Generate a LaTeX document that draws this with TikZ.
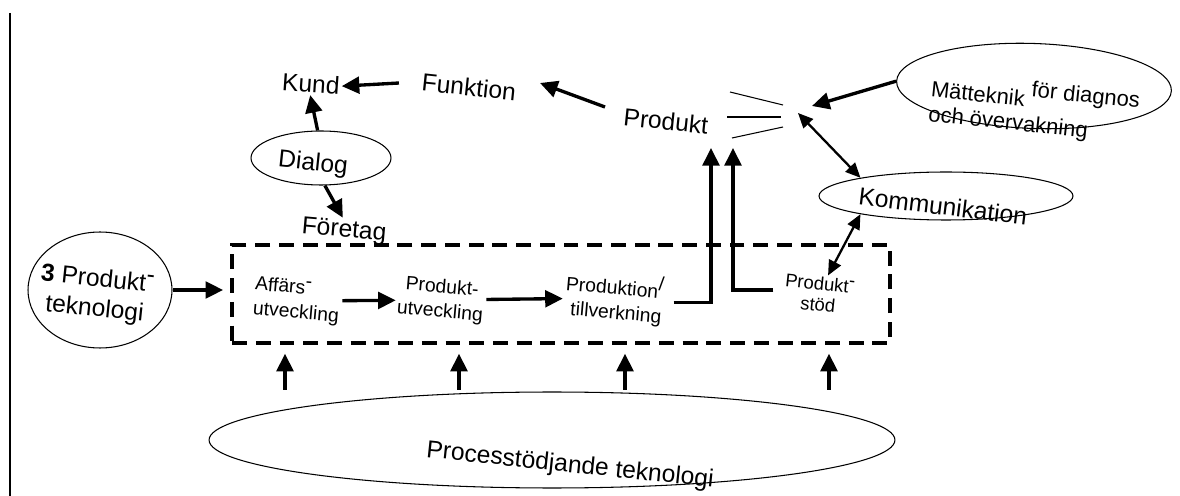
\documentclass[tikz,border=0pt]{standalone}
\usepackage{fontspec}
\setmainfont{Liberation Sans}
\usepackage{tikz}
\usetikzlibrary{positioning,calc,arrows.meta,shapes.geometric}

\tikzset{
  arr/.style={line width=1.9pt,-{Triangle[length=10pt,width=9.5pt]}},
  darr/.style={line width=1.3pt,{Triangle[length=8.5pt,width=7.5pt]}-{Triangle[length=8.5pt,width=7.5pt]}},
  ray/.style={line width=0.6pt},
  oval/.style={draw,ellipse,line width=0.6pt,inner sep=0pt},
  big/.style={font=\fontsize{14}{17}\selectfont,inner sep=1pt},
  small/.style={font=\fontsize{11}{14}\selectfont,inner sep=1pt,align=center},
  tiny/.style={font=\fontsize{10.5}{12}\selectfont,inner sep=1pt,align=center},
  frame/.style={draw,line width=2.2pt,dash pattern=on 8.5pt off 5pt,inner sep=0pt},
}

\begin{document}
\begin{tikzpicture}[x=0.02cm,y=-0.02cm]
    \useasboundingbox (0,0) rectangle (1180,496);
    \draw[line width=0.8pt] (10,13) -- (10,496);

    \node[big,rotate=-4] (kund) at (311,84) {Kund};
    \node[big,rotate=-6] (funktion) at (469,87) {Funktion};
    \node[big,rotate=-6] (produkt) at (666,121) {Produkt};
    \node[oval,minimum width=2.8cm,minimum height=1.08cm] (dialog) at (321,158) {};
    \node[big,rotate=-6] (dialogtxt) at (313,164) {Dialog};
    \node[big,rotate=-5] (foretag) at (344,231) {Företag};

    \node[oval,rotate=-2,minimum width=5.5cm,minimum height=1.7cm] (matt) at (1034,86) {};
    \node[font=\fontsize{12.5}{14}\selectfont,inner sep=0pt,align=left,rotate=-6,anchor=west] (matttxt) at (930,98)
        {Mätteknik \raisebox{0.9ex}{för diagnos}\\och övervakning};
    \node[oval,minimum width=5.08cm,minimum height=0.96cm] (komm) at (946,196) {};
    \node[big,rotate=-7] (kommtxt) at (943,206) {Kommunikation};

    \node[oval,minimum width=2.88cm,minimum height=2.32cm] (prod3) at (100,290) {};
    \node[big,align=center,rotate=-6] (prod3txt) at (96,295)
        {\textbf{3} Produkt\raisebox{0.7ex}{-}\\teknologi};

    \node[frame,minimum width=13.16cm,minimum height=1.96cm] (box) at (561,294) {};
    \node[small,rotate=-5,align=left] (affars) at (297,301) {Affärs\raisebox{0.7ex}{-}\\utveckling};
    \node[small,rotate=-5] (produtv) at (441,300) {Produkt-\\utveckling};
    \node[small,rotate=-5,align=right] (prodtill) at (614,298) {Produktion\raisebox{0.7ex}{/}\\tillverkning};
    \node[tiny,rotate=-6] (prodstod) at (819,294) {Produkt\raisebox{0.7ex}{-}\\stöd};

    \node[oval,minimum width=13.72cm,minimum height=1.92cm] (proc) at (552,440) {};
    \node[big,rotate=-6] (proctxt) at (570,466) {Processtödjande teknologi};

    \coordinate (pf) at (605,107);
    \coordinate (fp) at (540,83);
    \coordinate (fa) at (812,106);
    \coordinate (fb) at (798,113);
    \coordinate (up1) at (711,148);
    \coordinate (up2) at (733,148);

    \draw[arr,shorten <=12pt] (funktion.west) -- (kund.east);
    \draw[arr] (pf) -- (fp);
    \draw[arr] (dialog.97) -- (kund.south);
    \draw[arr] (dialog.-82) -- (foretag.100);
    \draw[arr] (matt.west) -- (fa);
    \draw[darr] (fb) -- (komm.168);
    \draw[darr] (komm.192) -- (prodstod.70);

    \draw[ray] (730,92) -- (783,105);
    \draw[ray] (727,117) -- (781,117);
    \draw[ray] (732,138) -- (783,127);

    \draw[arr,shorten <=5pt] (prodtill.east) -| (up1);
    \draw[arr,shorten <=5pt] (prodstod.west) -| (up2);

    \draw[arr,shorten >=4pt] (prod3) -- (prod3 -| box.west);
    \draw[arr] (affars) -- (produtv);
    \draw[arr] (produtv) -- (prodtill);
    \foreach \x in {285,459,625,829}
      \draw[arr,shorten >=5pt,shorten <=1pt] (proc.north -| \x,0) -- (box.south -| \x,0);
\end{tikzpicture}
\end{document}
